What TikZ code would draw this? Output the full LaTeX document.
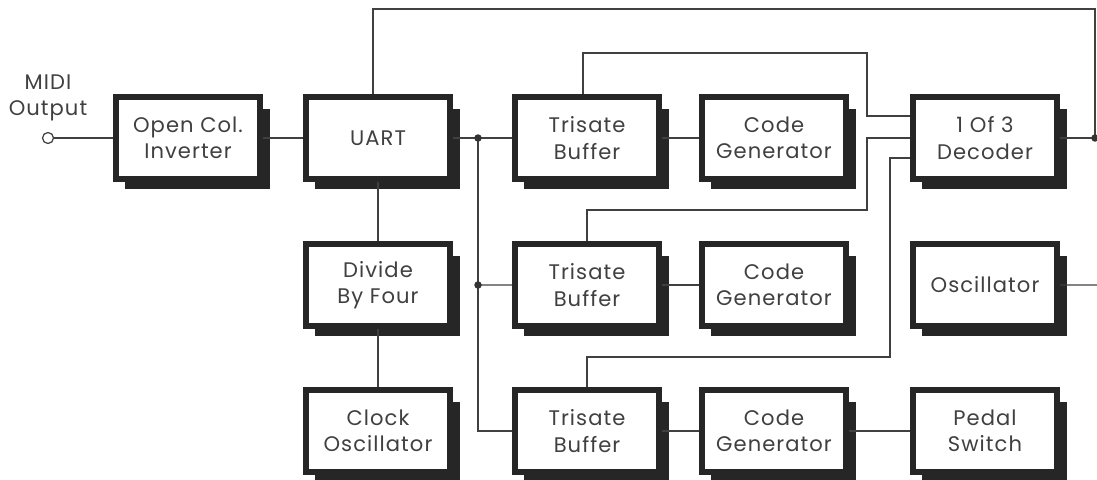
\documentclass[tikz,border=0pt]{standalone}
\usepackage{fontspec}
\setsansfont[LetterSpace=5]{Poppins}
\usepackage{tikz}
\usetikzlibrary{positioning, backgrounds}

\begin{document}
\begin{tikzpicture}[
  font=\sffamily\fontsize{12}{15}\selectfont,
  blk/.style={draw=black!85, line width=0.12cm, fill=white, minimum width=2.88cm,
    minimum height=1.64cm, align=center, text=black!75},
  wire/.style={draw=black!75, line width=0.7pt},
  dot/.style={circle, fill=black!80, inner sep=0pt, minimum size=0.15cm},
  jack/.style={circle, draw=black!75, line width=0.7pt, fill=white, inner sep=0pt,
    minimum size=0.22cm},
]
  \useasboundingbox (0,0) rectangle (21.94,-9.58);

  % top row
  \node[blk] (inv) at (3.76,-2.76) {Open Col.\\Inverter};
  \node[blk, right=0.8cm of inv]   (uart) {UART};
  \node[blk, right=1.18cm of uart] (tb1)  {Trisate\\Buffer};
  \node[blk, right=0.74cm of tb1]  (cg1)  {Code\\Generator};
  \node[blk, right=1.22cm of cg1]  (dec)  {1 Of 3\\Decoder};
  % middle row
  \node[blk, below=1.18cm of uart] (div)  {Divide\\By Four};
  \node[blk, below=1.18cm of tb1]  (tb2)  {Trisate\\Buffer};
  \node[blk, right=0.74cm of tb2]  (cg2)  {Code\\Generator};
  \node[blk, right=1.22cm of cg2]  (osc)  {Oscillator};
  % bottom row
  \node[blk, below=1.16cm of div]  (clk)  {Clock\\Oscillator};
  \node[blk, below=1.16cm of tb2]  (tb3)  {Trisate\\Buffer};
  \node[blk, right=0.74cm of tb3]  (cg3)  {Code\\Generator};
  \node[blk, right=1.22cm of cg3]  (ped)  {Pedal\\Switch};

  % shadows
  \begin{pgfonlayer}{background}
    \foreach \n in {inv,uart,tb1,cg1,dec,div,tb2,cg2,osc,clk,tb3,cg3,ped}
      \fill[black!85] ([xshift=0.24cm, yshift=-0.3cm]\n.north west)
        rectangle ([xshift=0.14cm, yshift=-0.14cm]\n.south east);
  \end{pgfonlayer}

  \node[jack] (out) at (0.96,-2.76) {};
  \node[align=center, text=black!75] (lbl) at (0.96,-1.96) {MIDI\\Output};

  \coordinate (j1) at (9.56,-2.76);
  \coordinate (j2) at (9.56,-5.70);
  \coordinate (j3) at (21.9,-2.76);
  \coordinate (t1) at (21.9,-0.18);
  \coordinate (k1) at (17.34,-1.06);
  \coordinate (k2) at (17.34,-4.20);
  \coordinate (k3) at (17.80,-7.14);
  \coordinate (e1) at (22.2,-5.70);

  \draw[wire] (out) -- (inv);
  \draw[wire] (inv) -- (uart);
  \draw[wire] (uart) -- (tb1);
  \draw[wire] (j1) |- (tb3);
  \draw[wire] (j2) -- (tb2);
  \draw[wire] (uart) -- (div);
  \draw[wire] (div) -- (clk);
  \draw[wire] (tb1) -- (cg1);
  \draw[wire] (tb2) -- (cg2);
  \draw[wire] (tb3) -- (cg3);
  \draw[wire] (cg3) -- (ped);
  \draw[wire] ([xshift=-0.08cm]tb1.north) |- (k1) |- ([yshift=0.44cm]dec.west);
  \draw[wire] (tb2.north) |- (k2) |- (dec.west);
  \draw[wire] (tb3.north) |- (k3) |- ([yshift=-0.4cm]dec.west);
  \draw[wire] ([xshift=-0.1cm]uart.north) |- (t1) -- (j3);
  \draw[wire] (dec) -- (j3);
  \draw[wire] (osc) -- (e1);

  \node[dot] (d1) at (j1) {};
  \node[dot] (d2) at (j2) {};
  \node[dot] (d3) at (j3) {};
\end{tikzpicture}
\end{document}
